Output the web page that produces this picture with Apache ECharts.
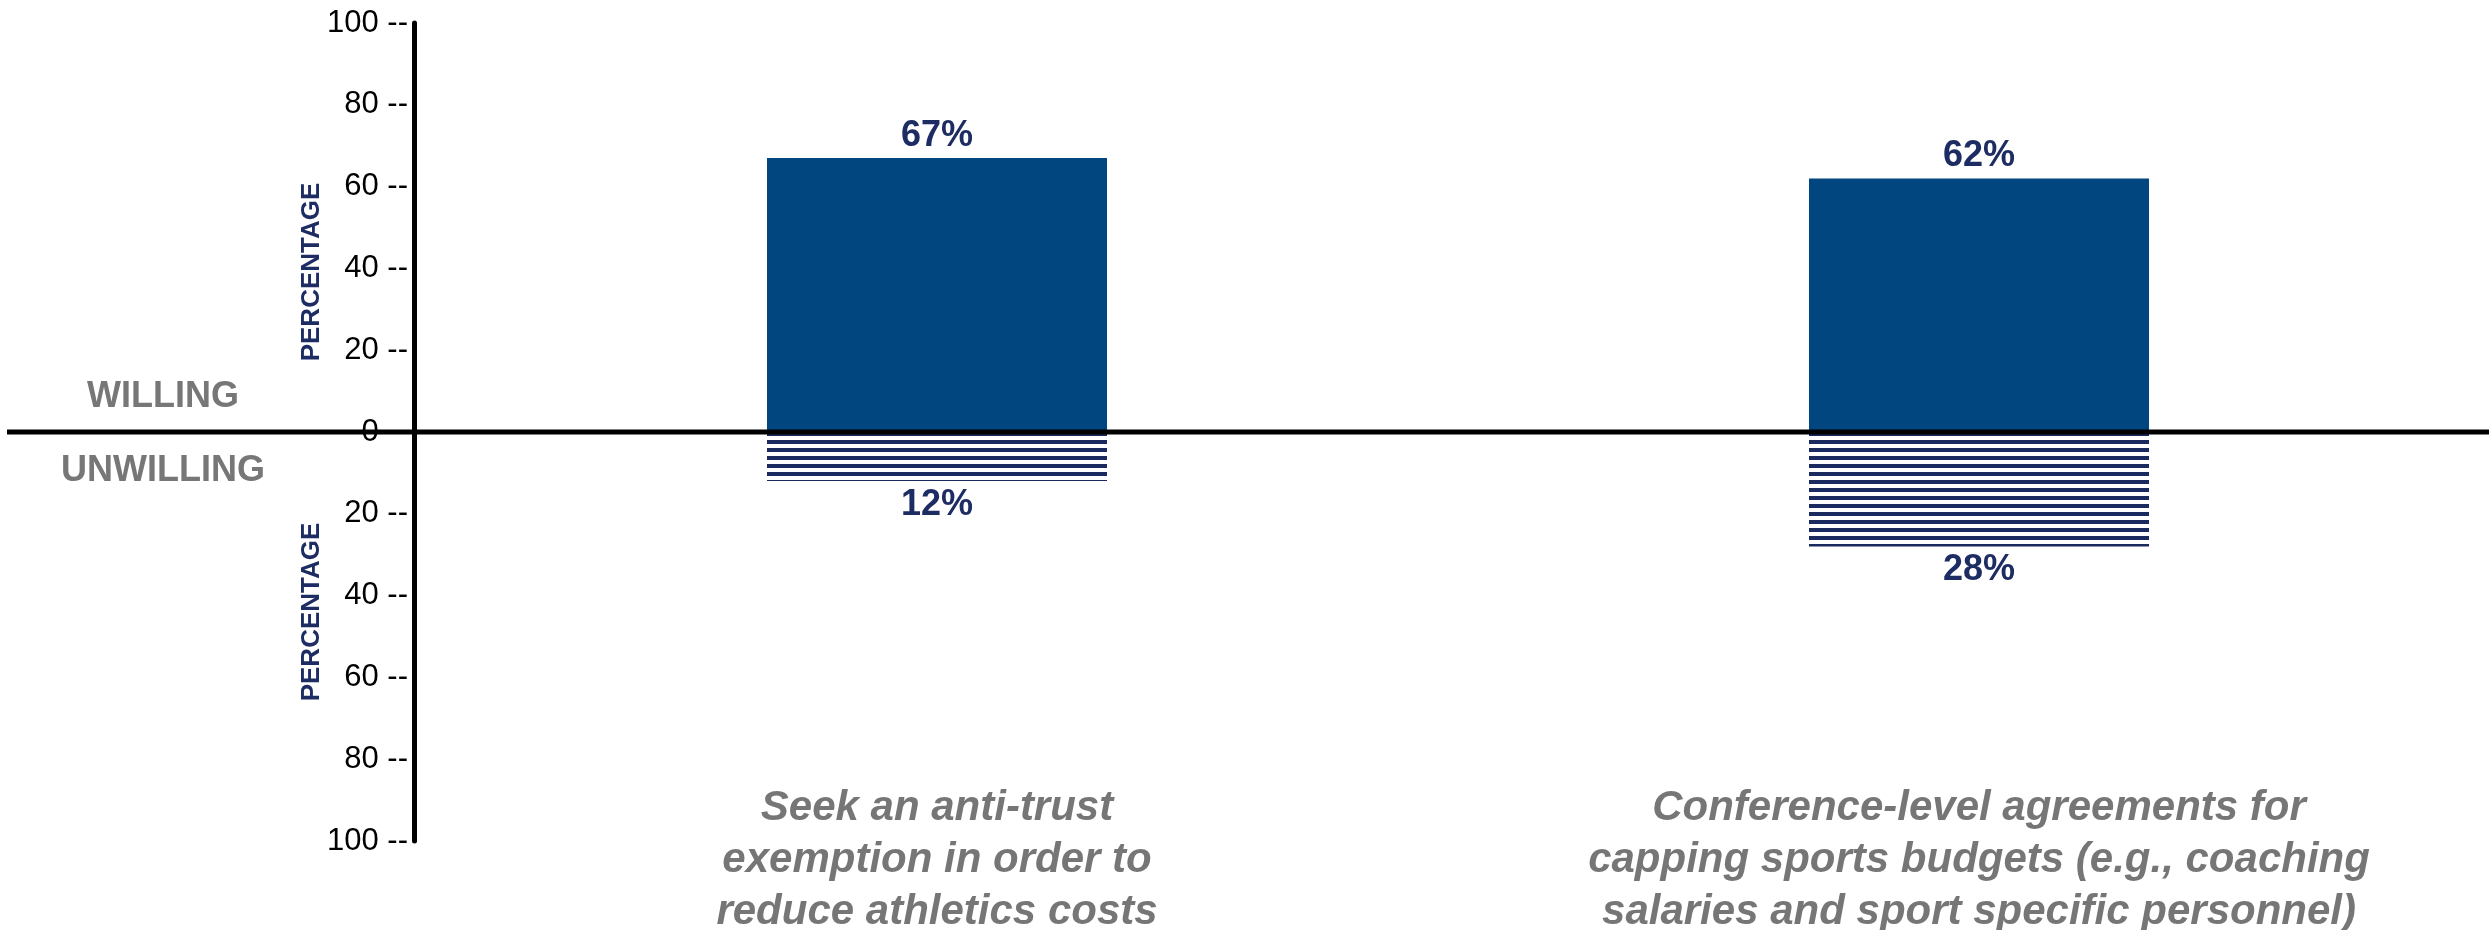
<!DOCTYPE html>
<html>
<head>
<meta charset="utf-8">
<script src="https://cdn.jsdelivr.net/npm/echarts@6/dist/echarts.min.js"></script>
<style>
html,body{margin:0;padding:0;background:#fff;overflow:hidden;}
#chart{width:2489px;height:930px;}
</style>
</head>
<body>
<div id="chart"></div>
<script>
const categories = [
  'Seek an anti-trust\nexemption in order to\nreduce athletics costs',
  'Conference-level agreements for\ncapping sports budgets (e.g., coaching\nsalaries and sport specific personnel)'
];
const willingValues = [67, 62];
const unwillingValues = [12, 28];
const sideLabels = ['WILLING', 'UNWILLING'];
const axisTitle = 'PERCENTAGE';

const FONT = "'Liberation Sans', Arial, Helvetica, sans-serif";
const NAVY = '#1D2C62';
const BAR = '#01467F';
const STRIPE = '#1B2A5E';
const GRAY = '#767676';

// horizontal layout: category slots are 1042px apart, first centred at x=937, grid starts at 414
const GRID_LEFT = 414, SLOT = 1042, FIRST_CENTER = 937, CHART_W = 2489;
const xMin = -(FIRST_CENTER - GRID_LEFT) / SLOT;
const xMax = xMin + (CHART_W - GRID_LEFT) / SLOT;

const pat = document.createElement('canvas');
pat.width = 8; pat.height = 8;
const pctx = pat.getContext('2d');
pctx.fillStyle = '#ffffff';
pctx.fillRect(0, 0, 8, 8);
pctx.fillStyle = STRIPE;
pctx.fillRect(0, 0, 8, 4);

const chart = echarts.init(document.getElementById('chart'), null, {renderer: 'canvas'});

const option = {
  animation: false,
  backgroundColor: '#ffffff',
  grid: {left: GRID_LEFT, right: 0, top: 23, bottom: 89, containLabel: false, outerBoundsMode: 'none'},
  xAxis: {
    type: 'value',
    min: xMin,
    max: xMax,
    position: 'bottom',
    axisLine: {show: false, onZero: false},
    axisTick: {show: false},
    splitLine: {show: false},
    axisLabel: {
      customValues: categories.map((c, i) => i),
      margin: -59,
      color: GRAY,
      fontFamily: FONT,
      fontSize: 42,
      fontWeight: 'bold',
      fontStyle: 'italic',
      lineHeight: 52,
      align: 'center',
      formatter: v => categories[Math.round(v)] || ''
    }
  },
  yAxis: {
    type: 'value',
    min: -100,
    max: 100,
    interval: 20,
    axisLine: {show: true, onZero: false, lineStyle: {color: '#000', width: 5}},
    axisTick: {show: false},
    splitLine: {show: false},
    axisLabel: {
      margin: 6,
      color: '#000',
      fontFamily: FONT,
      fontSize: 31,
      formatter: v => Math.abs(v) + ' --'
    }
  },
  series: [
    {
      name: 'Willing',
      type: 'bar',
      data: willingValues.map((v, i) => [i, v]),
      barWidth: 340,
      barGap: '-100%',
      itemStyle: {color: BAR},
      label: {
        show: true,
        position: 'top',
        distance: 4,
        color: NAVY,
        fontFamily: FONT,
        fontSize: 36,
        fontWeight: 'bold',
        formatter: p => p.value[1] + '%'
      },
      z: 2
    },
    {
      name: 'Unwilling',
      type: 'bar',
      data: unwillingValues.map((v, i) => [i, -v]),
      barWidth: 340,
      barGap: '-100%',
      itemStyle: {color: {image: pat, repeat: 'repeat'}},
      label: {
        show: true,
        position: 'bottom',
        distance: 6,
        color: NAVY,
        fontFamily: FONT,
        fontSize: 36,
        fontWeight: 'bold',
        formatter: p => Math.abs(p.value[1]) + '%'
      },
      z: 2
    }
  ]
};
chart.setOption(option);

const y0 = chart.convertToPixel({yAxisIndex: 0}, 0);
chart.setOption({
  graphic: [
    {
      type: 'line', z: 100,
      shape: {x1: 7, y1: y0, x2: CHART_W, y2: y0},
      style: {stroke: '#000', lineWidth: 5}
    },
    {
      type: 'text', z: 100,
      x: 163, y: y0 - 35,
      style: {text: sideLabels[0], fill: '#777777', font: "bold 36px " + FONT, align: 'center', verticalAlign: 'middle'}
    },
    {
      type: 'text', z: 100,
      x: 163, y: y0 + 39,
      style: {text: sideLabels[1], fill: '#777777', font: "bold 36px " + FONT, align: 'center', verticalAlign: 'middle'}
    },
    {
      type: 'text', z: 100,
      x: 312, y: y0 - 160, rotation: Math.PI / 2,
      style: {text: axisTitle, fill: NAVY, font: "bold 26px " + FONT, align: 'center', verticalAlign: 'middle'}
    },
    {
      type: 'text', z: 100,
      x: 312, y: y0 + 180, rotation: Math.PI / 2,
      style: {text: axisTitle, fill: NAVY, font: "bold 26px " + FONT, align: 'center', verticalAlign: 'middle'}
    }
  ]
});
</script>
</body>
</html>
